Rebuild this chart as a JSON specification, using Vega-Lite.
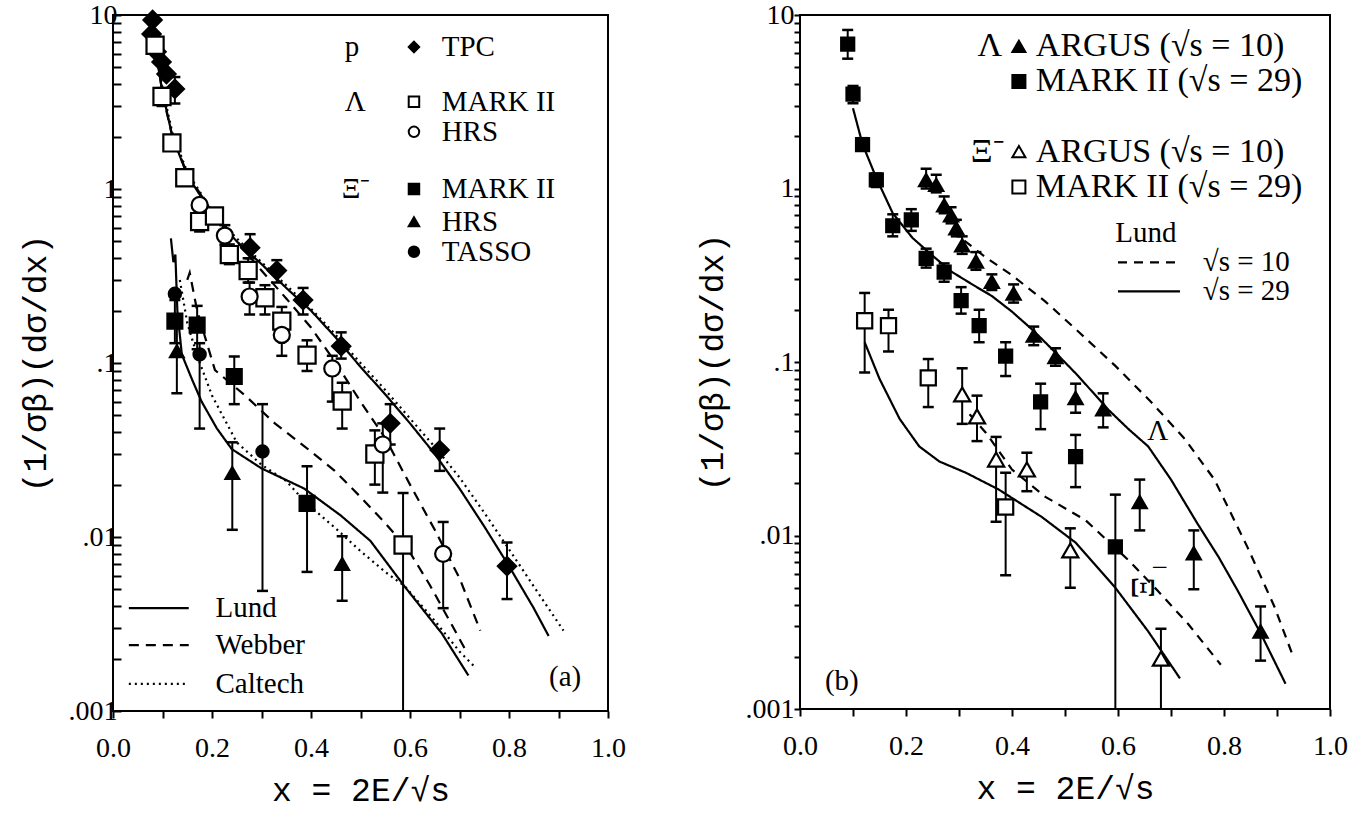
{
  "$schema": "https://vega.github.io/schema/vega-lite/v6.json",
  "background": "white",
  "padding": {"left": 18, "top": 0, "right": 0, "bottom": 0},
  "spacing": 68,
  "resolve": {"scale": {"shape": "independent", "fill": "independent", "size": "independent", "strokeDash": "independent"}},
  "config": {
    "view": {"stroke": "black", "strokeWidth": 2},
    "axis": {"grid": false, "domain": false, "tickColor": "black", "tickWidth": 2, "labelColor": "black", "labelFont": "Liberation Serif", "labelFontSize": 28, "titleFont": "Liberation Mono", "titleFontSize": 33, "titleFontWeight": "normal", "titleColor": "black", "labelOverlap": false, "labelFlush": false},
    "text": {"font": "Liberation Serif", "color": "black"}
  },
  "datasets": {
    "a_pts": [
      {"s": "TPC", "x": 0.080, "y": 9.36},
      {"s": "TPC", "x": 0.078, "y": 7.78},
      {"s": "TPC", "x": 0.088, "y": 6.14},
      {"s": "TPC", "x": 0.098, "y": 5.37},
      {"s": "TPC", "x": 0.108, "y": 4.58},
      {"s": "TPC", "x": 0.125, "y": 3.76, "lo": 3.1, "hi": 4.4},
      {"s": "TPC", "x": 0.277, "y": 0.46, "lo": 0.40, "hi": 0.55},
      {"s": "TPC", "x": 0.331, "y": 0.34, "lo": 0.29, "hi": 0.39},
      {"s": "TPC", "x": 0.384, "y": 0.23, "lo": 0.19, "hi": 0.27},
      {"s": "TPC", "x": 0.461, "y": 0.125, "lo": 0.106, "hi": 0.15},
      {"s": "TPC", "x": 0.56, "y": 0.045, "lo": 0.034, "hi": 0.058},
      {"s": "TPC", "x": 0.66, "y": 0.0316, "lo": 0.024, "hi": 0.042},
      {"s": "TPC", "x": 0.796, "y": 0.0068, "lo": 0.0044, "hi": 0.0093},
      {"s": "MKΛ", "x": 0.085, "y": 6.7},
      {"s": "MKΛ", "x": 0.099, "y": 3.4, "lo": 3.0, "hi": 3.8},
      {"s": "MKΛ", "x": 0.119, "y": 1.84},
      {"s": "MKΛ", "x": 0.145, "y": 1.16},
      {"s": "MKΛ", "x": 0.175, "y": 0.65, "lo": 0.57, "hi": 0.75},
      {"s": "MKΛ", "x": 0.205, "y": 0.70},
      {"s": "MKΛ", "x": 0.235, "y": 0.42, "lo": 0.37, "hi": 0.48},
      {"s": "MKΛ", "x": 0.273, "y": 0.34, "lo": 0.29, "hi": 0.40},
      {"s": "MKΛ", "x": 0.307, "y": 0.237, "lo": 0.19, "hi": 0.28},
      {"s": "MKΛ", "x": 0.341, "y": 0.174, "lo": 0.15, "hi": 0.21},
      {"s": "MKΛ", "x": 0.392, "y": 0.111, "lo": 0.09, "hi": 0.135},
      {"s": "MKΛ", "x": 0.463, "y": 0.0605, "lo": 0.042, "hi": 0.077},
      {"s": "MKΛ", "x": 0.529, "y": 0.030, "lo": 0.020, "hi": 0.041},
      {"s": "MKΛ", "x": 0.586, "y": 0.009, "lo": 0.001, "hi": 0.0179},
      {"s": "HRSΛ", "x": 0.175, "y": 0.81},
      {"s": "HRSΛ", "x": 0.226, "y": 0.54, "lo": 0.48, "hi": 0.62},
      {"s": "HRSΛ", "x": 0.276, "y": 0.241, "lo": 0.19, "hi": 0.29},
      {"s": "HRSΛ", "x": 0.341, "y": 0.145, "lo": 0.11, "hi": 0.17},
      {"s": "HRSΛ", "x": 0.443, "y": 0.093, "lo": 0.06, "hi": 0.11},
      {"s": "HRSΛ", "x": 0.545, "y": 0.034, "lo": 0.018, "hi": 0.045},
      {"s": "HRSΛ", "x": 0.667, "y": 0.008, "lo": 0.0039, "hi": 0.0122},
      {"s": "MKΞ", "x": 0.125, "y": 0.174, "lo": 0.13, "hi": 0.23},
      {"s": "MKΞ", "x": 0.17, "y": 0.165, "lo": 0.12, "hi": 0.213},
      {"s": "MKΞ", "x": 0.245, "y": 0.0837, "lo": 0.058, "hi": 0.109},
      {"s": "MKΞ", "x": 0.392, "y": 0.0156, "lo": 0.0063, "hi": 0.0255},
      {"s": "HRSΞ", "x": 0.129, "y": 0.117, "lo": 0.067, "hi": 0.17},
      {"s": "HRSΞ", "x": 0.241, "y": 0.0233, "lo": 0.011, "hi": 0.035},
      {"s": "HRSΞ", "x": 0.463, "y": 0.007, "lo": 0.0043, "hi": 0.0101},
      {"s": "TASSO", "x": 0.125, "y": 0.25},
      {"s": "TASSO", "x": 0.175, "y": 0.112, "lo": 0.042, "hi": 0.13},
      {"s": "TASSO", "x": 0.302, "y": 0.031, "lo": 0.0049, "hi": 0.058}
    ],
    "a_cur": [
      {"c": "LΛ", "m": "Lund", "x": 0.085, "y": 6.5}, {"c": "LΛ", "m": "Lund", "x": 0.1, "y": 3.6}, {"c": "LΛ", "m": "Lund", "x": 0.12, "y": 2.0}, {"c": "LΛ", "m": "Lund", "x": 0.15, "y": 1.2}, {"c": "LΛ", "m": "Lund", "x": 0.2, "y": 0.72}, {"c": "LΛ", "m": "Lund", "x": 0.25, "y": 0.5}, {"c": "LΛ", "m": "Lund", "x": 0.3, "y": 0.37}, {"c": "LΛ", "m": "Lund", "x": 0.35, "y": 0.27}, {"c": "LΛ", "m": "Lund", "x": 0.4, "y": 0.2}, {"c": "LΛ", "m": "Lund", "x": 0.45, "y": 0.14}, {"c": "LΛ", "m": "Lund", "x": 0.5, "y": 0.095}, {"c": "LΛ", "m": "Lund", "x": 0.55, "y": 0.066}, {"c": "LΛ", "m": "Lund", "x": 0.6, "y": 0.045}, {"c": "LΛ", "m": "Lund", "x": 0.65, "y": 0.03}, {"c": "LΛ", "m": "Lund", "x": 0.7, "y": 0.019}, {"c": "LΛ", "m": "Lund", "x": 0.75, "y": 0.0115}, {"c": "LΛ", "m": "Lund", "x": 0.8, "y": 0.0068}, {"c": "LΛ", "m": "Lund", "x": 0.85, "y": 0.0039}, {"c": "LΛ", "m": "Lund", "x": 0.88, "y": 0.0027},
      {"c": "CΛ", "m": "Caltech", "x": 0.085, "y": 6.8}, {"c": "CΛ", "m": "Caltech", "x": 0.1, "y": 3.8}, {"c": "CΛ", "m": "Caltech", "x": 0.12, "y": 2.1}, {"c": "CΛ", "m": "Caltech", "x": 0.15, "y": 1.25}, {"c": "CΛ", "m": "Caltech", "x": 0.2, "y": 0.75}, {"c": "CΛ", "m": "Caltech", "x": 0.25, "y": 0.52}, {"c": "CΛ", "m": "Caltech", "x": 0.3, "y": 0.38}, {"c": "CΛ", "m": "Caltech", "x": 0.35, "y": 0.28}, {"c": "CΛ", "m": "Caltech", "x": 0.4, "y": 0.205}, {"c": "CΛ", "m": "Caltech", "x": 0.45, "y": 0.145}, {"c": "CΛ", "m": "Caltech", "x": 0.5, "y": 0.1}, {"c": "CΛ", "m": "Caltech", "x": 0.55, "y": 0.07}, {"c": "CΛ", "m": "Caltech", "x": 0.6, "y": 0.048}, {"c": "CΛ", "m": "Caltech", "x": 0.65, "y": 0.033}, {"c": "CΛ", "m": "Caltech", "x": 0.7, "y": 0.022}, {"c": "CΛ", "m": "Caltech", "x": 0.75, "y": 0.0138}, {"c": "CΛ", "m": "Caltech", "x": 0.8, "y": 0.0085}, {"c": "CΛ", "m": "Caltech", "x": 0.85, "y": 0.0052}, {"c": "CΛ", "m": "Caltech", "x": 0.91, "y": 0.0029},
      {"c": "WΛ", "m": "Webber", "x": 0.09, "y": 5.5}, {"c": "WΛ", "m": "Webber", "x": 0.1, "y": 3.5}, {"c": "WΛ", "m": "Webber", "x": 0.12, "y": 2.0}, {"c": "WΛ", "m": "Webber", "x": 0.15, "y": 1.22}, {"c": "WΛ", "m": "Webber", "x": 0.2, "y": 0.74}, {"c": "WΛ", "m": "Webber", "x": 0.25, "y": 0.5}, {"c": "WΛ", "m": "Webber", "x": 0.3, "y": 0.34}, {"c": "WΛ", "m": "Webber", "x": 0.35, "y": 0.235}, {"c": "WΛ", "m": "Webber", "x": 0.4, "y": 0.16}, {"c": "WΛ", "m": "Webber", "x": 0.45, "y": 0.1}, {"c": "WΛ", "m": "Webber", "x": 0.5, "y": 0.06}, {"c": "WΛ", "m": "Webber", "x": 0.55, "y": 0.037}, {"c": "WΛ", "m": "Webber", "x": 0.6, "y": 0.02}, {"c": "WΛ", "m": "Webber", "x": 0.65, "y": 0.011}, {"c": "WΛ", "m": "Webber", "x": 0.7, "y": 0.0058}, {"c": "WΛ", "m": "Webber", "x": 0.742, "y": 0.0029},
      {"c": "LΞ", "m": "Lund", "x": 0.117, "y": 0.52}, {"c": "LΞ", "m": "Lund", "x": 0.122, "y": 0.38}, {"c": "LΞ", "m": "Lund", "x": 0.126, "y": 0.42}, {"c": "LΞ", "m": "Lund", "x": 0.13, "y": 0.2}, {"c": "LΞ", "m": "Lund", "x": 0.139, "y": 0.112}, {"c": "LΞ", "m": "Lund", "x": 0.16, "y": 0.08}, {"c": "LΞ", "m": "Lund", "x": 0.179, "y": 0.06}, {"c": "LΞ", "m": "Lund", "x": 0.21, "y": 0.042}, {"c": "LΞ", "m": "Lund", "x": 0.24, "y": 0.032}, {"c": "LΞ", "m": "Lund", "x": 0.3, "y": 0.0248}, {"c": "LΞ", "m": "Lund", "x": 0.386, "y": 0.019}, {"c": "LΞ", "m": "Lund", "x": 0.46, "y": 0.0133}, {"c": "LΞ", "m": "Lund", "x": 0.52, "y": 0.0095}, {"c": "LΞ", "m": "Lund", "x": 0.589, "y": 0.0052}, {"c": "LΞ", "m": "Lund", "x": 0.664, "y": 0.0028}, {"c": "LΞ", "m": "Lund", "x": 0.718, "y": 0.0016},
      {"c": "CΞ", "m": "Caltech", "x": 0.135, "y": 0.3}, {"c": "CΞ", "m": "Caltech", "x": 0.15, "y": 0.17}, {"c": "CΞ", "m": "Caltech", "x": 0.17, "y": 0.11}, {"c": "CΞ", "m": "Caltech", "x": 0.2, "y": 0.065}, {"c": "CΞ", "m": "Caltech", "x": 0.25, "y": 0.035}, {"c": "CΞ", "m": "Caltech", "x": 0.3, "y": 0.026}, {"c": "CΞ", "m": "Caltech", "x": 0.35, "y": 0.021}, {"c": "CΞ", "m": "Caltech", "x": 0.39, "y": 0.0157}, {"c": "CΞ", "m": "Caltech", "x": 0.45, "y": 0.0112}, {"c": "CΞ", "m": "Caltech", "x": 0.5, "y": 0.0083}, {"c": "CΞ", "m": "Caltech", "x": 0.55, "y": 0.0063}, {"c": "CΞ", "m": "Caltech", "x": 0.59, "y": 0.0052}, {"c": "CΞ", "m": "Caltech", "x": 0.65, "y": 0.0033}, {"c": "CΞ", "m": "Caltech", "x": 0.7, "y": 0.0022}, {"c": "CΞ", "m": "Caltech", "x": 0.73, "y": 0.0018},
      {"c": "WΞ", "m": "Webber", "x": 0.15, "y": 0.3}, {"c": "WΞ", "m": "Webber", "x": 0.155, "y": 0.33}, {"c": "WΞ", "m": "Webber", "x": 0.17, "y": 0.2}, {"c": "WΞ", "m": "Webber", "x": 0.206, "y": 0.091}, {"c": "WΞ", "m": "Webber", "x": 0.267, "y": 0.065}, {"c": "WΞ", "m": "Webber", "x": 0.327, "y": 0.045}, {"c": "WΞ", "m": "Webber", "x": 0.388, "y": 0.033}, {"c": "WΞ", "m": "Webber", "x": 0.448, "y": 0.024}, {"c": "WΞ", "m": "Webber", "x": 0.5, "y": 0.017}, {"c": "WΞ", "m": "Webber", "x": 0.55, "y": 0.012}, {"c": "WΞ", "m": "Webber", "x": 0.596, "y": 0.0085}, {"c": "WΞ", "m": "Webber", "x": 0.64, "y": 0.0053}, {"c": "WΞ", "m": "Webber", "x": 0.68, "y": 0.0033}, {"c": "WΞ", "m": "Webber", "x": 0.71, "y": 0.0023},
      {"c": "kL", "m": "Lund", "x": 0.032, "y": 0.0039}, {"c": "kL", "m": "Lund", "x": 0.153, "y": 0.0039},
      {"c": "kW", "m": "Webber", "x": 0.032, "y": 0.00239}, {"c": "kW", "m": "Webber", "x": 0.153, "y": 0.00239},
      {"c": "kC", "m": "Caltech", "x": 0.032, "y": 0.00143}, {"c": "kC", "m": "Caltech", "x": 0.153, "y": 0.00143}
    ],
    "a_sym": [
      {"s": "TPC", "x": 0.608, "y": 6.55},
      {"s": "MKΛ", "x": 0.608, "y": 3.17},
      {"s": "HRSΛ", "x": 0.608, "y": 2.13},
      {"s": "MKΞ", "x": 0.608, "y": 1.0},
      {"s": "HRSΞ", "x": 0.608, "y": 0.649},
      {"s": "TASSO", "x": 0.608, "y": 0.436}
    ],
    "a_txt": [
      {"t": "p", "x": 0.468, "y": 6.55},
      {"t": "Λ", "x": 0.468, "y": 3.17},
      {"t": "Ξ⁻", "x": 0.462, "y": 1.0},
      {"t": "TPC", "x": 0.664, "y": 6.55},
      {"t": "MARK II", "x": 0.664, "y": 3.17},
      {"t": "HRS", "x": 0.664, "y": 2.13},
      {"t": "MARK II", "x": 0.664, "y": 1.0},
      {"t": "HRS", "x": 0.664, "y": 0.649},
      {"t": "TASSO", "x": 0.664, "y": 0.436},
      {"t": "Lund", "x": 0.207, "y": 0.0039},
      {"t": "Webber", "x": 0.207, "y": 0.00239},
      {"t": "Caltech", "x": 0.207, "y": 0.00143},
      {"t": "(a)", "x": 0.881, "y": 0.00157}
    ],
    "b_pts": [
      {"s": "MK29Λ", "x": 0.09, "y": 6.8, "lo": 5.6, "hi": 8.2},
      {"s": "MK29Λ", "x": 0.10, "y": 3.5, "lo": 3.1, "hi": 3.9},
      {"s": "MK29Λ", "x": 0.118, "y": 1.79, "lo": 1.65, "hi": 1.95},
      {"s": "MK29Λ", "x": 0.144, "y": 1.12, "lo": 1.02, "hi": 1.22},
      {"s": "MK29Λ", "x": 0.175, "y": 0.61, "lo": 0.53, "hi": 0.71},
      {"s": "MK29Λ", "x": 0.21, "y": 0.66, "lo": 0.57, "hi": 0.76},
      {"s": "MK29Λ", "x": 0.238, "y": 0.395, "lo": 0.35, "hi": 0.45},
      {"s": "MK29Λ", "x": 0.272, "y": 0.33, "lo": 0.29, "hi": 0.37},
      {"s": "MK29Λ", "x": 0.304, "y": 0.226, "lo": 0.19, "hi": 0.27},
      {"s": "MK29Λ", "x": 0.338, "y": 0.162, "lo": 0.13, "hi": 0.2},
      {"s": "MK29Λ", "x": 0.388, "y": 0.108, "lo": 0.083, "hi": 0.13},
      {"s": "MK29Λ", "x": 0.454, "y": 0.059, "lo": 0.041, "hi": 0.075},
      {"s": "MK29Λ", "x": 0.52, "y": 0.0285, "lo": 0.019, "hi": 0.038},
      {"s": "MK29Λ", "x": 0.595, "y": 0.0086, "lo": 0.001, "hi": 0.0172},
      {"s": "ARΛ", "x": 0.238, "y": 1.12, "lo": 1.0, "hi": 1.3},
      {"s": "ARΛ", "x": 0.257, "y": 1.05, "lo": 0.95, "hi": 1.2},
      {"s": "ARΛ", "x": 0.272, "y": 0.8, "lo": 0.72, "hi": 0.9},
      {"s": "ARΛ", "x": 0.285, "y": 0.7, "lo": 0.63, "hi": 0.78},
      {"s": "ARΛ", "x": 0.295, "y": 0.59, "lo": 0.53, "hi": 0.66},
      {"s": "ARΛ", "x": 0.306, "y": 0.47, "lo": 0.42, "hi": 0.53},
      {"s": "ARΛ", "x": 0.332, "y": 0.38, "lo": 0.34, "hi": 0.43},
      {"s": "ARΛ", "x": 0.362, "y": 0.29, "lo": 0.26, "hi": 0.32},
      {"s": "ARΛ", "x": 0.403, "y": 0.248, "lo": 0.22, "hi": 0.28},
      {"s": "ARΛ", "x": 0.441, "y": 0.142, "lo": 0.125, "hi": 0.16},
      {"s": "ARΛ", "x": 0.482, "y": 0.107, "lo": 0.095, "hi": 0.12},
      {"s": "ARΛ", "x": 0.52, "y": 0.062, "lo": 0.051, "hi": 0.075},
      {"s": "ARΛ", "x": 0.572, "y": 0.0534, "lo": 0.042, "hi": 0.066},
      {"s": "ARΛ", "x": 0.641, "y": 0.0156, "lo": 0.0107, "hi": 0.021},
      {"s": "ARΛ", "x": 0.743, "y": 0.0079, "lo": 0.0049, "hi": 0.0107},
      {"s": "ARΛ", "x": 0.869, "y": 0.0028, "lo": 0.0019, "hi": 0.0039},
      {"s": "MK29Ξ", "x": 0.122, "y": 0.173, "lo": 0.087, "hi": 0.25},
      {"s": "MK29Ξ", "x": 0.167, "y": 0.162, "lo": 0.115, "hi": 0.2},
      {"s": "MK29Ξ", "x": 0.242, "y": 0.081, "lo": 0.055, "hi": 0.104},
      {"s": "MK29Ξ", "x": 0.388, "y": 0.0146, "lo": 0.0059, "hi": 0.023},
      {"s": "ARΞ", "x": 0.306, "y": 0.065, "lo": 0.044, "hi": 0.092},
      {"s": "ARΞ", "x": 0.334, "y": 0.0486, "lo": 0.035, "hi": 0.064},
      {"s": "ARΞ", "x": 0.37, "y": 0.0274, "lo": 0.012, "hi": 0.037},
      {"s": "ARΞ", "x": 0.428, "y": 0.024, "lo": 0.018, "hi": 0.030},
      {"s": "ARΞ", "x": 0.51, "y": 0.0082, "lo": 0.005, "hi": 0.011},
      {"s": "ARΞ", "x": 0.681, "y": 0.00195, "lo": 0.001, "hi": 0.0029}
    ],
    "b_cur": [
      {"c": "29Λ", "m": "29", "x": 0.1, "y": 2.9}, {"c": "29Λ", "m": "29", "x": 0.118, "y": 1.8}, {"c": "29Λ", "m": "29", "x": 0.144, "y": 1.15}, {"c": "29Λ", "m": "29", "x": 0.175, "y": 0.72}, {"c": "29Λ", "m": "29", "x": 0.212, "y": 0.52}, {"c": "29Λ", "m": "29", "x": 0.25, "y": 0.41}, {"c": "29Λ", "m": "29", "x": 0.287, "y": 0.33}, {"c": "29Λ", "m": "29", "x": 0.325, "y": 0.28}, {"c": "29Λ", "m": "29", "x": 0.362, "y": 0.24}, {"c": "29Λ", "m": "29", "x": 0.4, "y": 0.195}, {"c": "29Λ", "m": "29", "x": 0.44, "y": 0.152}, {"c": "29Λ", "m": "29", "x": 0.48, "y": 0.115}, {"c": "29Λ", "m": "29", "x": 0.525, "y": 0.083}, {"c": "29Λ", "m": "29", "x": 0.582, "y": 0.053}, {"c": "29Λ", "m": "29", "x": 0.62, "y": 0.041}, {"c": "29Λ", "m": "29", "x": 0.657, "y": 0.0326}, {"c": "29Λ", "m": "29", "x": 0.7, "y": 0.021}, {"c": "29Λ", "m": "29", "x": 0.75, "y": 0.0117}, {"c": "29Λ", "m": "29", "x": 0.79, "y": 0.0075}, {"c": "29Λ", "m": "29", "x": 0.826, "y": 0.0048}, {"c": "29Λ", "m": "29", "x": 0.87, "y": 0.0027}, {"c": "29Λ", "m": "29", "x": 0.916, "y": 0.0014},
      {"c": "10Λ", "m": "10", "x": 0.31, "y": 0.5}, {"c": "10Λ", "m": "10", "x": 0.351, "y": 0.4}, {"c": "10Λ", "m": "10", "x": 0.4, "y": 0.316}, {"c": "10Λ", "m": "10", "x": 0.463, "y": 0.223}, {"c": "10Λ", "m": "10", "x": 0.525, "y": 0.15}, {"c": "10Λ", "m": "10", "x": 0.595, "y": 0.095}, {"c": "10Λ", "m": "10", "x": 0.662, "y": 0.059}, {"c": "10Λ", "m": "10", "x": 0.726, "y": 0.036}, {"c": "10Λ", "m": "10", "x": 0.782, "y": 0.021}, {"c": "10Λ", "m": "10", "x": 0.844, "y": 0.0086}, {"c": "10Λ", "m": "10", "x": 0.895, "y": 0.0039}, {"c": "10Λ", "m": "10", "x": 0.932, "y": 0.00195},
      {"c": "29Ξ", "m": "29", "x": 0.122, "y": 0.13}, {"c": "29Ξ", "m": "29", "x": 0.15, "y": 0.08}, {"c": "29Ξ", "m": "29", "x": 0.188, "y": 0.047}, {"c": "29Ξ", "m": "29", "x": 0.225, "y": 0.0326}, {"c": "29Ξ", "m": "29", "x": 0.263, "y": 0.0267}, {"c": "29Ξ", "m": "29", "x": 0.313, "y": 0.023}, {"c": "29Ξ", "m": "29", "x": 0.375, "y": 0.0184}, {"c": "29Ξ", "m": "29", "x": 0.456, "y": 0.0128}, {"c": "29Ξ", "m": "29", "x": 0.52, "y": 0.0091}, {"c": "29Ξ", "m": "29", "x": 0.595, "y": 0.005}, {"c": "29Ξ", "m": "29", "x": 0.657, "y": 0.0028}, {"c": "29Ξ", "m": "29", "x": 0.717, "y": 0.0015},
      {"c": "10Ξ", "m": "10", "x": 0.32, "y": 0.05}, {"c": "10Ξ", "m": "10", "x": 0.351, "y": 0.039}, {"c": "10Ξ", "m": "10", "x": 0.4, "y": 0.024}, {"c": "10Ξ", "m": "10", "x": 0.463, "y": 0.0167}, {"c": "10Ξ", "m": "10", "x": 0.538, "y": 0.0123}, {"c": "10Ξ", "m": "10", "x": 0.62, "y": 0.0072}, {"c": "10Ξ", "m": "10", "x": 0.675, "y": 0.0048}, {"c": "10Ξ", "m": "10", "x": 0.732, "y": 0.0031}, {"c": "10Ξ", "m": "10", "x": 0.794, "y": 0.0018},
      {"c": "k10", "m": "10", "x": 0.6, "y": 0.375}, {"c": "k10", "m": "10", "x": 0.717, "y": 0.375},
      {"c": "k29", "m": "29", "x": 0.6, "y": 0.255}, {"c": "k29", "m": "29", "x": 0.717, "y": 0.255}
    ],
    "b_sym": [
      {"s": "ARΛ", "x": 0.413, "y": 6.6},
      {"s": "MK29Λ", "x": 0.413, "y": 4.14},
      {"s": "ARΞ", "x": 0.413, "y": 1.63},
      {"s": "MK29Ξ", "x": 0.413, "y": 1.02}
    ],
    "b_leg": [
      {"t": "Λ", "x": 0.335, "y": 6.6},
      {"t": "ARGUS (√s = 10)", "x": 0.445, "y": 6.6},
      {"t": "MARK II (√s = 29)", "x": 0.445, "y": 4.14},
      {"t": "Ξ⁻", "x": 0.322, "y": 1.63},
      {"t": "ARGUS (√s = 10)", "x": 0.445, "y": 1.63},
      {"t": "MARK II (√s = 29)", "x": 0.445, "y": 1.02}
    ],
    "b_txt": [
      {"t": "Lund", "x": 0.595, "y": 0.552},
      {"t": "√s = 10", "x": 0.76, "y": 0.375},
      {"t": "√s = 29", "x": 0.76, "y": 0.255},
      {"t": "(b)", "x": 0.047, "y": 0.00145},
      {"t": "Λ", "x": 0.655, "y": 0.04},
      {"t": "−", "x": 0.663, "y": 0.0065}
    ],
    "b_rot": [
      {"t": "Ξ", "x": 0.645, "y": 0.0050}
    ]
  },
  "hconcat": [
    {
      "width": 495,
      "height": 696,
      "encoding": {
        "x": {"field": "x", "type": "quantitative", "title": "x = 2E/√s",
          "scale": {"domain": [0, 1], "nice": false, "zero": false},
          "axis": {"values": [0, 0.1, 0.2, 0.3, 0.4, 0.5, 0.6, 0.7, 0.8, 0.9, 1], "labelExpr": "round(datum.value*10) % 2 == 0 ? format(datum.value, '.1f') : ''", "tickSize": 7, "labelPadding": 16, "titlePadding": 12}},
        "y": {"field": "y", "type": "quantitative", "title": "(1/σβ)(dσ/dx)",
          "scale": {"type": "log", "domain": [0.001, 10], "nice": false},
          "axis": {"values": [0.001, 0.002, 0.003, 0.004, 0.005, 0.006, 0.007, 0.008, 0.009, 0.01, 0.02, 0.03, 0.04, 0.05, 0.06, 0.07, 0.08, 0.09, 0.1, 0.2, 0.3, 0.4, 0.5, 0.6, 0.7, 0.8, 0.9, 1, 2, 3, 4, 5, 6, 7, 8, 9, 10], "labelExpr": "datum.value == 10 ? '10' : datum.value == 1 ? '1' : datum.value == 0.1 ? '.1' : datum.value == 0.01 ? '.01' : datum.value == 0.001 ? '.001' : ''", "tickSize": -8, "labelPadding": 4, "titlePadding": 16}}
      },
      "layer": [
        {"data": {"name": "a_pts"}, "transform": [{"filter": "isValid(datum.hi)"}],
         "mark": {"type": "rule", "color": "black", "strokeWidth": 2},
         "encoding": {"y": {"field": "lo", "type": "quantitative", "title": "(1/σβ)(dσ/dx)", "scale": {"type": "log", "domain": [0.001, 10], "nice": false}}, "y2": {"field": "hi"}}},
        {"data": {"name": "a_pts"}, "transform": [{"filter": "isValid(datum.hi)"}],
         "mark": {"type": "tick", "orient": "horizontal", "color": "black", "size": 11, "thickness": 2.5, "opacity": 1},
         "encoding": {"y": {"field": "hi", "type": "quantitative", "title": "(1/σβ)(dσ/dx)", "scale": {"type": "log", "domain": [0.001, 10], "nice": false}}}},
        {"data": {"name": "a_pts"}, "transform": [{"filter": "isValid(datum.lo) && datum.lo > 0.0011"}],
         "mark": {"type": "tick", "orient": "horizontal", "color": "black", "size": 11, "thickness": 2.5, "opacity": 1},
         "encoding": {"y": {"field": "lo", "type": "quantitative", "title": "(1/σβ)(dσ/dx)", "scale": {"type": "log", "domain": [0.001, 10], "nice": false}}}},
        {"data": {"name": "a_cur"},
         "mark": {"type": "line", "color": "black", "strokeWidth": 2.2},
         "encoding": {"detail": {"field": "c"}, "strokeDash": {"field": "m", "type": "nominal", "legend": null, "scale": {"domain": ["Lund", "Webber", "Caltech"], "range": [[1, 0], [10, 7], [2, 4]]}}}},
        {"data": {"name": "a_pts"},
         "mark": {"type": "point", "filled": true, "stroke": "black", "strokeWidth": 2.2, "opacity": 1, "fillOpacity": 1},
         "encoding": {
           "shape": {"field": "s", "type": "nominal", "legend": null, "scale": {"domain": ["TPC", "MKΛ", "HRSΛ", "MKΞ", "HRSΞ", "TASSO"], "range": ["diamond", "square", "circle", "square", "triangle-up", "circle"]}},
           "fill": {"field": "s", "type": "nominal", "legend": null, "scale": {"domain": ["TPC", "MKΛ", "HRSΛ", "MKΞ", "HRSΞ", "TASSO"], "range": ["black", "white", "white", "black", "black", "black"]}},
           "size": {"field": "s", "type": "nominal", "legend": null, "scale": {"domain": ["TPC", "MKΛ", "HRSΛ", "MKΞ", "HRSΞ", "TASSO"], "range": [330, 150, 140, 170, 260, 200]}}}},
        {"data": {"name": "a_sym"},
         "mark": {"type": "point", "filled": true, "stroke": "black", "strokeWidth": 2, "opacity": 1, "fillOpacity": 1, "size": 110},
         "encoding": {
           "shape": {"field": "s", "type": "nominal", "legend": null, "scale": {"domain": ["TPC", "MKΛ", "HRSΛ", "MKΞ", "HRSΞ", "TASSO"], "range": ["diamond", "square", "circle", "square", "triangle-up", "circle"]}},
           "fill": {"field": "s", "type": "nominal", "legend": null, "scale": {"domain": ["TPC", "MKΛ", "HRSΛ", "MKΞ", "HRSΞ", "TASSO"], "range": ["black", "white", "white", "black", "black", "black"]}}}},
        {"data": {"name": "a_txt"},
         "mark": {"type": "text", "align": "left", "baseline": "middle", "fontSize": 29, "font": "Liberation Serif"},
         "encoding": {"text": {"field": "t"}}}
      ]
    },
    {
      "width": 530,
      "height": 694,
      "encoding": {
        "x": {"field": "x", "type": "quantitative", "title": "x = 2E/√s",
          "scale": {"domain": [0, 1], "nice": false, "zero": false},
          "axis": {"values": [0, 0.1, 0.2, 0.3, 0.4, 0.5, 0.6, 0.7, 0.8, 0.9, 1], "labelExpr": "round(datum.value*10) % 2 == 0 ? format(datum.value, '.1f') : ''", "tickSize": 7, "labelPadding": 16, "titlePadding": 12}},
        "y": {"field": "y", "type": "quantitative", "title": "(1/σβ)(dσ/dx)",
          "scale": {"type": "log", "domain": [0.001, 10], "nice": false},
          "axis": {"values": [0.001, 0.002, 0.003, 0.004, 0.005, 0.006, 0.007, 0.008, 0.009, 0.01, 0.02, 0.03, 0.04, 0.05, 0.06, 0.07, 0.08, 0.09, 0.1, 0.2, 0.3, 0.4, 0.5, 0.6, 0.7, 0.8, 0.9, 1, 2, 3, 4, 5, 6, 7, 8, 9, 10], "labelExpr": "datum.value == 10 ? '10' : datum.value == 1 ? '1' : datum.value == 0.1 ? '.1' : datum.value == 0.01 ? '.01' : datum.value == 0.001 ? '.001' : ''", "tickSize": 6, "labelPadding": 0, "titlePadding": 16}}
      },
      "layer": [
        {"data": {"name": "b_pts"}, "transform": [{"filter": "isValid(datum.hi)"}],
         "mark": {"type": "rule", "color": "black", "strokeWidth": 2},
         "encoding": {"y": {"field": "lo", "type": "quantitative", "title": "(1/σβ)(dσ/dx)", "scale": {"type": "log", "domain": [0.001, 10], "nice": false}}, "y2": {"field": "hi"}}},
        {"data": {"name": "b_pts"}, "transform": [{"filter": "isValid(datum.hi)"}],
         "mark": {"type": "tick", "orient": "horizontal", "color": "black", "size": 11, "thickness": 2.5, "opacity": 1},
         "encoding": {"y": {"field": "hi", "type": "quantitative", "title": "(1/σβ)(dσ/dx)", "scale": {"type": "log", "domain": [0.001, 10], "nice": false}}}},
        {"data": {"name": "b_pts"}, "transform": [{"filter": "isValid(datum.lo) && datum.lo > 0.0011"}],
         "mark": {"type": "tick", "orient": "horizontal", "color": "black", "size": 11, "thickness": 2.5, "opacity": 1},
         "encoding": {"y": {"field": "lo", "type": "quantitative", "title": "(1/σβ)(dσ/dx)", "scale": {"type": "log", "domain": [0.001, 10], "nice": false}}}},
        {"data": {"name": "b_cur"},
         "mark": {"type": "line", "color": "black", "strokeWidth": 2.2},
         "encoding": {"detail": {"field": "c"}, "strokeDash": {"field": "m", "type": "nominal", "legend": null, "scale": {"domain": ["29", "10"], "range": [[1, 0], [9, 7]]}}}},
        {"data": {"name": "b_pts"},
         "mark": {"type": "point", "filled": true, "stroke": "black", "strokeWidth": 2.2, "opacity": 1, "fillOpacity": 1},
         "encoding": {
           "shape": {"field": "s", "type": "nominal", "legend": null, "scale": {"domain": ["MK29Λ", "ARΛ", "MK29Ξ", "ARΞ"], "range": ["square", "triangle-up", "square", "triangle-up"]}},
           "fill": {"field": "s", "type": "nominal", "legend": null, "scale": {"domain": ["MK29Λ", "ARΛ", "MK29Ξ", "ARΞ"], "range": ["black", "black", "white", "white"]}},
           "size": {"field": "s", "type": "nominal", "legend": null, "scale": {"domain": ["MK29Λ", "ARΛ", "MK29Ξ", "ARΞ"], "range": [170, 260, 290, 400]}}}},
        {"data": {"name": "b_sym"},
         "mark": {"type": "point", "filled": true, "stroke": "black", "strokeWidth": 2, "opacity": 1, "fillOpacity": 1, "size": 170},
         "encoding": {
           "shape": {"field": "s", "type": "nominal", "legend": null, "scale": {"domain": ["MK29Λ", "ARΛ", "MK29Ξ", "ARΞ"], "range": ["square", "triangle-up", "square", "triangle-up"]}},
           "fill": {"field": "s", "type": "nominal", "legend": null, "scale": {"domain": ["MK29Λ", "ARΛ", "MK29Ξ", "ARΞ"], "range": ["black", "black", "white", "white"]}}}},
        {"data": {"name": "b_leg"},
         "mark": {"type": "text", "align": "left", "baseline": "middle", "fontSize": 34, "font": "Liberation Serif"},
         "encoding": {"text": {"field": "t"}}},
        {"data": {"name": "b_txt"},
         "mark": {"type": "text", "align": "left", "baseline": "middle", "fontSize": 29, "font": "Liberation Serif"},
         "encoding": {"text": {"field": "t"}}},
        {"data": {"name": "b_rot"},
         "mark": {"type": "text", "align": "center", "baseline": "middle", "fontSize": 34, "angle": 90, "font": "Liberation Serif"},
         "encoding": {"text": {"field": "t"}}}
      ]
    }
  ]
}
